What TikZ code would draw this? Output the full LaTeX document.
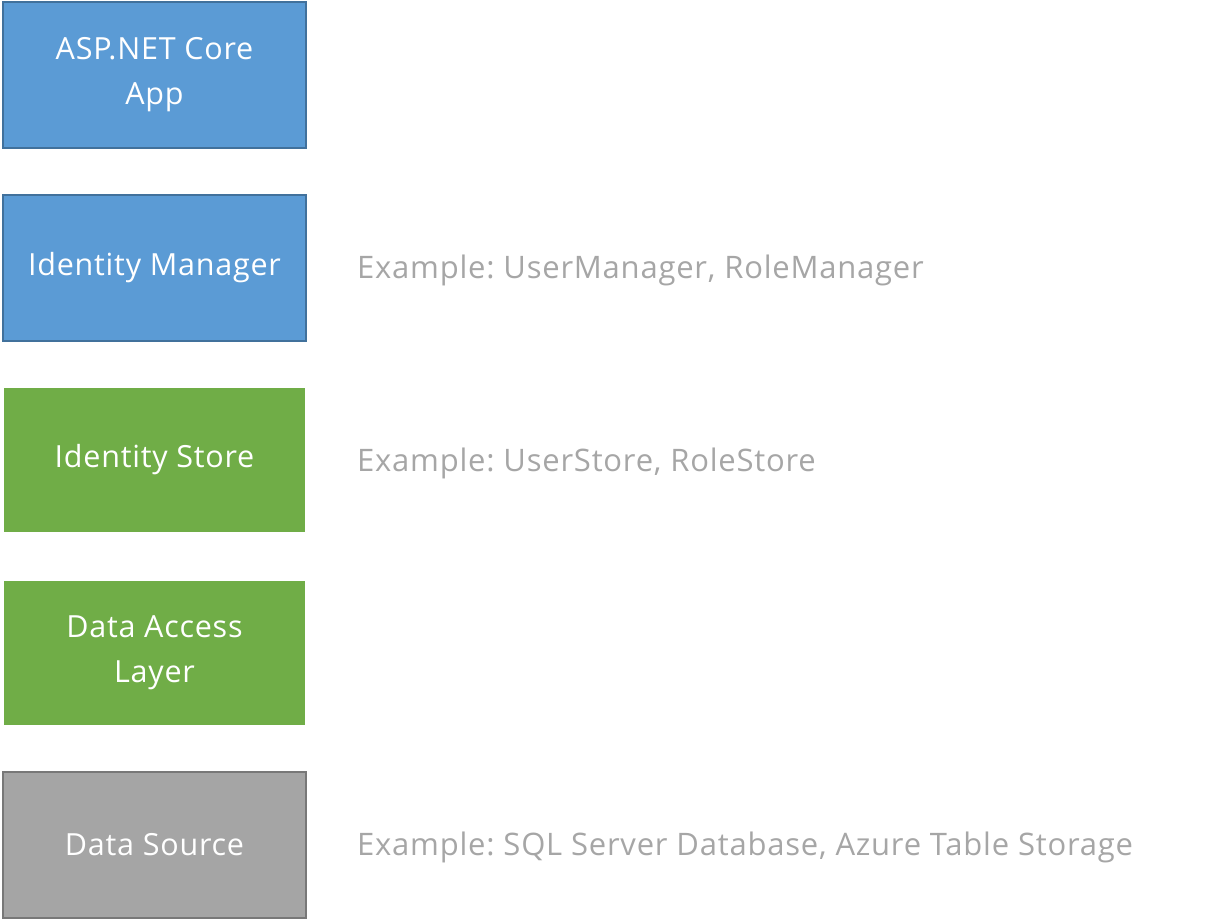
\documentclass[tikz,border=0pt]{standalone}
\usepackage{fontspec}
\setmainfont{Open Sans}[LetterSpace=2.5]
\usepackage{tikz}
\usetikzlibrary{positioning}
\definecolor{layerblue}{HTML}{5B9BD5}
\definecolor{layerblueline}{HTML}{41719C}
\definecolor{layergreen}{HTML}{70AD47}
\definecolor{layergray}{HTML}{A5A5A5}
\definecolor{layergrayline}{HTML}{787878}
\definecolor{notegray}{HTML}{A6A6A6}
\frenchspacing
\tikzset{
  layer/.style={minimum width=303pt, minimum height=146pt, inner sep=0pt,
    align=center, text=white, font=\fontsize{30.5}{45}\selectfont, line width=2pt},
  bluelayer/.style={layer, fill=layerblue, draw=layerblueline},
  greenlayer/.style={layer, fill=layergreen, minimum width=301pt, minimum height=144pt},
  graylayer/.style={layer, fill=layergray, draw=layergrayline},
  note/.style={anchor=west, inner sep=0pt, yshift=-3pt, text=notegray, font=\fontsize{31}{37}\selectfont}
}
\begin{document}
\begin{tikzpicture}
% to fix the page size
\useasboundingbox (0pt,0pt) rectangle (1225pt,-920pt);

% to draw layers
\node [bluelayer] (app) at (154.5pt,-75pt) {ASP.NET Core\\App};
\node [bluelayer] (manager) at (154.5pt,-267.5pt) {Identity Manager};
\node [greenlayer] (store) at (154.5pt,-460pt) {Identity Store};
\node [greenlayer] (dal) at (154.5pt,-652.5pt) {Data Access\\Layer};
\node [graylayer] (source) at (154.5pt,-844.5pt) {Data Source};

% to write examples
\node [note] (managernote) at (357pt,-267.5pt) {Example: UserManager, RoleManager};
\node [note] (storenote) at (357pt,-460pt) {Example: UserStore, RoleStore};
\node [note] (sourcenote) at (357pt,-844.5pt) {Example: SQL Server Database, Azure Table Storage};
\end{tikzpicture}
\end{document}
